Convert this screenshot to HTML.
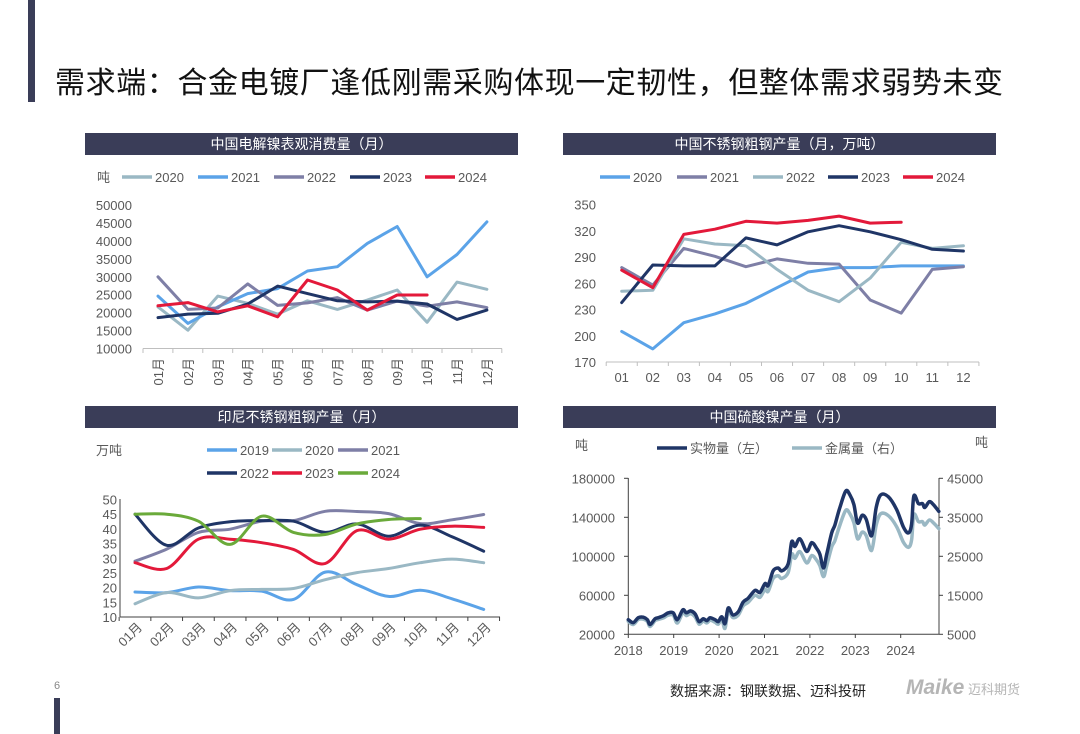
<!DOCTYPE html>
<html><head><meta charset="utf-8">
<style>
body{margin:0;background:#fff;}
#page{position:relative;width:1080px;height:734px;overflow:hidden;background:#fff;font-family:"Liberation Sans","Noto Sans CJK SC",sans-serif;}
.bar{position:absolute;background:#3a3d58;}
.ctitle{position:absolute;height:22px;background:#3a3d58;color:#fff;font-size:14px;line-height:22px;text-align:center;}
svg{position:absolute;left:0;top:0;}
svg text{font-family:"Liberation Sans","Noto Sans CJK SC",sans-serif;fill:#595959;font-size:13px;}
</style></head>
<body>
<div id="page">
<div class="bar" style="left:28px;top:0;width:7px;height:102px"></div>
<div style="position:absolute;left:55px;top:58px;font-size:30px;color:#111;white-space:nowrap;letter-spacing:0.6px">需求端：合金电镀厂逢低刚需采购体现一定韧性，但整体需求弱势未变</div>
<div class="ctitle" style="left:85px;top:133px;width:433px">中国电解镍表观消费量（月）</div>
<div class="ctitle" style="left:563px;top:133px;width:433px">中国不锈钢粗钢产量（月，万吨）</div>
<div class="ctitle" style="left:85px;top:406px;width:433px">印尼不锈钢粗钢产量（月）</div>
<div class="ctitle" style="left:563px;top:406px;width:433px">中国硫酸镍产量（月）</div>
<div style="position:absolute;left:54px;top:680px;font-size:11px;color:#888">6</div>
<div class="bar" style="left:54px;top:698px;width:6px;height:36px"></div>
<div style="position:absolute;left:670px;top:681px;font-size:14px;color:#222;white-space:nowrap">数据来源：钢联数据、迈科投研</div>
<div style="position:absolute;left:906px;top:676px;font-size:21px;color:#b5b5b5;font-weight:bold;font-style:italic;white-space:nowrap">Maike<span style="font-size:13px;font-style:normal;font-weight:normal"> 迈科期货</span></div>
<svg id="chart" width="1080" height="734"></svg>
</div>
<script>
// ---- Chart 1: 中国电解镍表观消费量 ----
const c1Months=["01月","02月","03月","04月","05月","06月","07月","08月","09月","10月","11月","12月"];
const c1Ticks=[10000,15000,20000,25000,30000,35000,40000,45000,50000];
const c1Years=["2020","2021","2022","2023","2024"];
const c1_2020=[21600,15100,24600,22600,19600,23300,20900,23500,26300,17300,28500,26500];
const c1_2021=[24600,17000,21600,25300,26700,31600,32800,39300,44000,30000,36200,45300];
const c1_2022=[30000,20900,21300,28000,22000,22700,24200,20700,23200,21800,23000,21400];
const c1_2023=[18600,19600,19800,22400,27400,25300,23300,23000,23200,22400,18100,20700];
const c1_2024=[21900,22800,20200,21900,18800,29100,26300,20700,24900,24900];
// ---- Chart 2: 中国不锈钢粗钢产量 ----
const c2Months=["01","02","03","04","05","06","07","08","09","10","11","12"];
const c2Ticks=[170,200,230,260,290,320,350];
const c2Years=["2020","2021","2022","2023","2024"];
const c2_2020=[205,185,215,225,237,255,273,278,278,280,280,280];
const c2_2021=[278,258,300,291,279,288,283,282,241,226,276,279];
const c2_2022=[251,252,311,305,303,276,252,239,266,307,300,303];
const c2_2023=[238,281,280,280,312,304,319,326,319,310,299,297];
const c2_2024=[275,255,316,322,331,329,332,337,329,330];
// ---- Chart 3: 印尼不锈钢粗钢产量 ----
const c3Months=["01月","02月","03月","04月","05月","06月","07月","08月","09月","10月","11月","12月"];
const c3Ticks=[10,15,20,25,30,35,40,45,50];
const c3Years=["2019","2020","2021","2022","2023","2024"];
const c3_2019=[18.5,18.3,20.2,19.0,18.8,16.0,25.3,21.0,17.0,19.1,16.2,12.6];
const c3_2020=[14.5,18.3,16.5,19.0,19.4,19.7,22.7,25.1,26.5,28.5,29.7,28.5];
const c3_2021=[29.0,33.1,38.8,39.9,42.6,42.8,46.0,45.9,45.2,41.8,43.1,44.9];
const c3_2022=[45.0,34.4,40.3,42.4,42.8,42.6,38.8,41.7,37.5,41.3,37.3,32.4];
const c3_2023=[28.5,26.5,36.5,36.5,35.3,33.0,28.2,39.4,36.5,39.9,40.9,40.5];
const c3_2024=[45.0,45.0,42.6,34.7,44.3,38.8,38.1,41.7,43.2,43.5];
// ---- Chart 4: 中国硫酸镍产量 ----
const c4Dates=[2018.0,2018.11,2018.22,2018.33,2018.42,2018.48,2018.59,2018.66,2018.77,2018.88,2018.99,2019.08,2019.2,2019.28,2019.37,2019.47,2019.56,2019.65,2019.73,2019.8,2019.91,2019.98,2020.06,2020.13,2020.2,2020.3,2020.42,2020.53,2020.64,2020.79,2020.9,2021.01,2021.08,2021.19,2021.3,2021.38,2021.52,2021.6,2021.67,2021.78,2021.93,2022.04,2022.15,2022.22,2022.3,2022.37,2022.48,2022.55,2022.66,2022.79,2022.88,2022.97,2023.05,2023.15,2023.24,2023.36,2023.46,2023.56,2023.73,2023.91,2024.06,2024.17,2024.24,2024.29,2024.39,2024.48,2024.53,2024.63,2024.72,2024.84];
const c4Physical=[35000,32000,37000,37500,35000,30000,36000,37000,39000,42000,42000,35000,45000,42000,44000,41000,33000,36000,34000,37000,35000,33000,38000,31000,47000,40000,43000,53000,57000,65000,63000,72000,70000,85000,88000,85000,92000,115000,110000,118000,105000,114000,108000,102000,88000,102000,124000,132000,150000,167000,163000,153000,134000,142000,138000,121000,150000,163000,161000,148000,130000,124000,133000,162000,154000,154000,150000,156000,153000,146000];
const c4Metal=[8300,7500,8800,8900,8300,7000,8500,8800,9200,9900,9900,7900,10500,9800,10300,9500,7600,8400,7900,8600,8100,7600,8800,6500,10900,9300,9900,12300,13200,15000,14500,16500,16000,19300,20000,19300,20800,25500,24500,26200,23300,25200,24000,22600,19800,22600,27400,29000,33000,36800,35900,33600,29500,31200,30300,26500,33000,35900,35400,32600,28600,27300,29200,35700,33900,33900,33000,34300,33600,32100];
const c4LeftTicks=[20000,60000,100000,140000,180000];
const c4RightTicks=[5000,15000,25000,35000,45000];
const c4YearLabels=[2018,2019,2020,2021,2022,2023,2024];

const NS="http://www.w3.org/2000/svg";
const svg=document.getElementById("chart");
function el(tag,attrs,parent){const e=document.createElementNS(NS,tag);for(const k in attrs)e.setAttribute(k,attrs[k]);(parent||svg).appendChild(e);return e;}
function txt(x,y,s,anchor,extra){const t=el("text",Object.assign({x:x,y:y,"text-anchor":anchor||"start"},extra||{}));t.textContent=s;return t;}
function pathStr(pts,smooth){
  if(!smooth)return pts.map((p,i)=>(i?"L":"M")+p[0].toFixed(1)+","+p[1].toFixed(1)).join("");
  let d="M"+pts[0][0].toFixed(1)+","+pts[0][1].toFixed(1);
  for(let i=0;i<pts.length-1;i++){const p0=pts[i-1]||pts[i],p1=pts[i],p2=pts[i+1],p3=pts[i+2]||p2;
    const c1x=p1[0]+(p2[0]-p0[0])/6,c1y=p1[1]+(p2[1]-p0[1])/6,c2x=p2[0]-(p3[0]-p1[0])/6,c2y=p2[1]-(p3[1]-p1[1])/6;
    d+="C"+c1x.toFixed(1)+","+c1y.toFixed(1)+" "+c2x.toFixed(1)+","+c2y.toFixed(1)+" "+p2[0].toFixed(1)+","+p2[1].toFixed(1);}
  return d;}
function series(vals,xf,yf,color,smooth,name,w){
  const pts=vals.map((v,i)=>[xf(i),yf(v)]);
  const p=el("path",{d:pathStr(pts,smooth),fill:"none",stroke:color,"stroke-width":w||3,"stroke-linejoin":"round","stroke-linecap":"round"});
  
  
  return p;}
function legend(x,y,color,label,name){
  const l=el("line",{x1:x,y1:y,x2:x+30,y2:y,stroke:color,"stroke-width":3.5});
  
  
  const t=txt(x+33,y+5,label,"start");
  
  }
const BLUE="#5ba3e8",TEAL="#9ab8c4",PURP="#7e7fa6",NAVY="#1f3566",RED="#e3193a",GREEN="#6aaa3a";

// Chart 1
(function(){
  const x=i=>158+i*29.9, y=v=>348.5-(v-10000)/40000*143.5;
  c1Ticks.forEach(v=>{const t=txt(132,y(v)+5,String(v),"end");});
  el("line",{x1:143,y1:348.5,x2:502,y2:348.5,stroke:"#bfbfbf","stroke-width":1});
  for(let i=0;i<=12;i++)el("line",{x1:x(i)-15,y1:348.5,x2:x(i)-15,y2:353,stroke:"#bfbfbf"});
  c1Months.forEach((m,i)=>{const t=txt(0,0,m,"end",{transform:"translate("+(x(i)+5)+",358) rotate(-90)"});});
  const cols=[TEAL,BLUE,PURP,NAVY,RED],data=[c1_2020,c1_2021,c1_2022,c1_2023,c1_2024],lx=[122,198,274,350,425];
  data.forEach((d,k)=>series(d,x,y,cols[k],false,"chart1-line-"+c1Years[k]));
  const u=txt(97,182,"吨");
  c1Years.forEach((yr,k)=>legend(lx[k],177,cols[k],yr,"chart1-legend-"+yr));
})();
// Chart 2
(function(){
  const x=i=>621.7+i*31.06, y=v=>362-(v-170)/180*157.3;
  c2Ticks.forEach(v=>{const t=txt(596,y(v)+5,String(v),"end");});
  el("line",{x1:606,y1:362,x2:979,y2:362,stroke:"#bfbfbf"});
  for(let i=0;i<=12;i++)el("line",{x1:x(i)-15.5,y1:362,x2:x(i)-15.5,y2:366,stroke:"#bfbfbf"});
  c2Months.forEach((m,i)=>{const t=txt(x(i),382,m,"middle");});
  const cols=[BLUE,PURP,TEAL,NAVY,RED],data=[c2_2020,c2_2021,c2_2022,c2_2023,c2_2024],lx=[600,677,753,828,903];
  data.forEach((d,k)=>series(d,x,y,cols[k],false,"chart2-line-"+c2Years[k]));
  c2Years.forEach((yr,k)=>legend(lx[k],177,cols[k],yr,"chart2-legend-"+yr));
})();
// Chart 3
(function(){
  const x=i=>135+i*31.7, y=v=>617-(v-10)/40*117.5;
  c3Ticks.forEach(v=>{const t=txt(117,y(v)+5,String(v),"end",{"font-size":"14"});});
  el("line",{x1:120,y1:499,x2:120,y2:617,stroke:"#404040"});
  el("line",{x1:120,y1:617,x2:500,y2:617,stroke:"#404040"});
  for(let i=0;i<=12;i++)el("line",{x1:x(i)-15.85,y1:617,x2:x(i)-15.85,y2:621,stroke:"#404040"});
  c3Months.forEach((m,i)=>{const t=txt(0,0,m,"end",{transform:"translate("+(x(i)+8)+",628) rotate(-45)"});});
  const cols=[BLUE,TEAL,PURP,NAVY,RED,GREEN],data=[c3_2019,c3_2020,c3_2021,c3_2022,c3_2023,c3_2024];
  const lx=[207,272,338,207,272,338],ly=[450,450,450,473,473,473];
  data.forEach((d,k)=>series(d,x,y,cols[k],true,"chart3-line-"+c3Years[k]));
  const u=txt(96,455,"万吨");
  c3Years.forEach((yr,k)=>legend(lx[k],ly[k],cols[k],yr,"chart3-legend-"+yr));
})();
// Chart 4
(function(){
  const xd=d=>628.3+(d-2018)*45.4, yl=v=>634.3-(v-20000)/160000*156, yr=v=>634.3-(v-5000)/40000*156;
  el("line",{x1:628.3,y1:478,x2:628.3,y2:634.3,stroke:"#404040"});
  el("line",{x1:939,y1:478,x2:939,y2:634.3,stroke:"#404040"});
  el("line",{x1:628.3,y1:634.3,x2:939,y2:634.3,stroke:"#404040"});
  c4LeftTicks.forEach(v=>{el("line",{x1:624,y1:yl(v),x2:628.3,y2:yl(v),stroke:"#404040"});const t=txt(615,yl(v)+5,String(v),"end");});
  c4RightTicks.forEach(v=>{el("line",{x1:939,y1:yr(v),x2:943,y2:yr(v),stroke:"#404040"});const t=txt(947,yr(v)+5,String(v),"start");});
  c4YearLabels.forEach(yy=>{el("line",{x1:xd(yy),y1:634.3,x2:xd(yy),y2:638,stroke:"#404040"});const t=txt(xd(yy),655,String(yy),"middle");});
  series(c4Metal,i=>xd(c4Dates[i]),yr,TEAL,true,"chart4-line-metal",3.5);
  series(c4Physical,i=>xd(c4Dates[i]),yl,NAVY,true,"chart4-line-physical",3.5);
  const u=txt(575,450,"吨");
  const u2=txt(975,447,"吨");
  legend(657,448,NAVY,"实物量（左）","chart4-legend-physical");
  legend(792,448,TEAL,"金属量（右）","chart4-legend-metal");
})();
</script>
</body></html>
